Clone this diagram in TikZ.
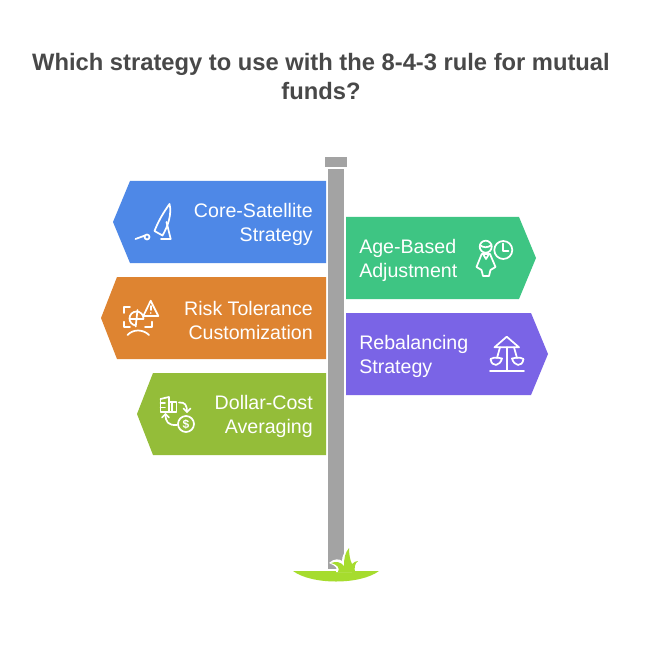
\documentclass[tikz,border=0pt]{standalone}
\usepackage{fontspec}
\setmainfont{Liberation Sans}
\definecolor{cblue}{HTML}{4E88E7}
\definecolor{corange}{HTML}{DE8431}
\definecolor{cgreen}{HTML}{94BD39}
\definecolor{cteal}{HTML}{3EC583}
\definecolor{cpurple}{HTML}{7A64E6}
\definecolor{cpole}{HTML}{A3A3A3}
\definecolor{cgrass}{HTML}{A6DC2E}
\definecolor{ctitle}{HTML}{484848}
\tikzset{
  titletext/.style={font=\fontsize{17.8}{21.75}\selectfont\bfseries,text=ctitle,align=center,inner sep=0pt},
  signtext/.style={font=\fontsize{14.7}{18}\selectfont,text=white,inner sep=0pt},
  icon/.style={draw=white,line width=1.3pt,line cap=round,line join=round,fill=none},
}
\begin{document}
\begin{tikzpicture}[x=0.75pt,y=-0.75pt]
\useasboundingbox (0,0) rectangle (648,648);
\fill[white] (0,0) rectangle (648,648);
\node[titletext] (title) at (321,76.5) {Which strategy to use with the 8-4-3 rule for mutual\\funds?};
% pole
\fill[cpole] (325,157) rectangle (347,167);
\fill[cpole] (328,169) rectangle (344,569);
% ground
\fill[cgrass] (293,571) .. controls (312,585) and (360,585) .. (379,571) -- cycle;
% grass halo
\fill[white] (336,572) .. controls (338,568) and (336,566) .. (329,563)
  .. controls (334,558) and (340,559) .. (342,561)
  .. controls (342,556) and (344,552) .. (350,546) -- (352,572) -- cycle;
% grass
\fill[cgrass] (338,572) .. controls (340,568) and (338,565) .. (331,563)
  .. controls (336,561) and (341,562) .. (344,566)
  .. controls (344,558) and (345,553) .. (349,548)
  .. controls (349,554) and (350,560) .. (352,564)
  .. controls (354,562) and (356,561) .. (358,561)
  .. controls (355,563) and (354,568) .. (355,572) -- cycle;
% signs
\fill[cblue] (326,181) -- (130,181) -- (113,222) -- (130,263) -- (326,263) -- cycle;
\fill[corange] (326,277) -- (117,277) -- (101,318) -- (117,359) -- (326,359) -- cycle;
\fill[cgreen] (326,373) -- (153,373) -- (137,414) -- (153,455) -- (326,455) -- cycle;
\fill[cteal] (346,217) -- (519,217) -- (536,258) -- (519,299) -- (346,299) -- cycle;
\fill[cpurple] (346,313) -- (531,313) -- (548,354) -- (531,395) -- (346,395) -- cycle;
% labels
\node[signtext,align=right,anchor=east] (l1) at (313,224) {Core-Satellite\\Strategy};
\node[signtext,align=right,anchor=east] (l2) at (313,320) {Risk Tolerance\\Customization};
\node[signtext,align=right,anchor=east] (l3) at (313,416) {Dollar-Cost\\Averaging};
\node[signtext,align=left,anchor=west] (l4) at (359,260) {Age-Based\\Adjustment};
\node[signtext,align=left,anchor=west] (l5) at (359,356) {Rebalancing\\Strategy};
% icon: satellite dish
\draw[icon] (169.5,204) .. controls (163,213) and (158,222) .. (154.5,231) -- (162.5,235.5) .. controls (168,226) and (172,214) .. (169.5,204) -- cycle;
\draw[icon] (166.5,222) -- (170.7,239) -- (161,239);
\draw[icon] (135.5,239) -- (145,235.5);
\draw[icon] (147,237) circle (2.5);
% icon: risk
\draw[icon] (124,313) -- (124,306.7) -- (130,306.7);
\draw[icon] (124,321.7) -- (124,327.3) -- (130,327.3);
\draw[icon] (145,327.3) -- (151.7,327.3) -- (151.7,321.7);
\draw[icon] (143.5,318.5) arc (0:-260:7);
\draw[icon] (137.5,310) -- (135.7,326.5) (129.7,319) -- (143.5,319);
\draw[icon] (127.5,335) .. controls (133,329) and (143,329) .. (149,335);
\draw[icon,fill=corange] (150.7,300.7) -- (158.3,316) -- (143.3,316) -- cycle;
\draw[icon] (150.7,306) -- (150.7,310);
\fill[white] (150.7,313) circle (0.8);
% icon: dollar cost
\draw[icon] (160.5,399) -- (160.5,412) -- (176.5,412) -- (176.5,402) -- (169,402);
\draw[icon] (160.5,399) -- (169,397) -- (169,412);
\draw[icon] (160.5,403) -- (165,403) (160.5,407.5) -- (165,407.5) (172,402) -- (172,412);
\draw[icon] (179,402.5) .. controls (185,402) and (187,405) .. (187,412);
\draw[icon] (183.5,408.5) -- (187,412) -- (190.5,408.5);
\draw[icon] (186,424) circle (8);
\node[font=\fontsize{9}{9}\selectfont\bfseries,text=white,inner sep=0pt] (dol) at (186,424) {\$};
\draw[icon] (177,425) .. controls (168,425.5) and (165.5,422) .. (165.5,414);
\draw[icon] (162,417.5) -- (165.5,414) -- (169,417.5);
% icon: age
\draw[icon] (485.7,246.7) circle (6);
\draw[icon] (480,245) .. controls (483,248) and (488,248) .. (491.5,245);
\draw[icon] (503.3,250) circle (9);
\draw[icon] (503.3,243.5) -- (503.3,251) -- (508.5,251);
\draw[icon] (481.7,254) -- (490,254) -- (495.5,267) -- (490.5,270) -- (489,276) -- (483,276) -- (481.5,270) -- (476.5,267) -- cycle;
\draw[icon] (483,254) -- (486,259) -- (489,254);
% icon: balance
\draw[icon] (506.7,336.7) -- (494.5,347.3) -- (519,347.3) -- cycle;
\draw[icon] (506.7,347.3) -- (506.7,370.7);
\draw[icon] (490,370.7) -- (524,370.7);
\draw[icon] (500,347.3) -- (497,358) (514,347.3) -- (517,358);
\draw[icon] (490.5,359) .. controls (495,356.5) and (499,358) .. (502,358.5) .. controls (500,366) and (492,368) .. (490.5,359) -- cycle;
\draw[icon] (523.5,359) .. controls (519,356.5) and (515,358) .. (512,358.5) .. controls (514,366) and (522,368) .. (523.5,359) -- cycle;
\end{tikzpicture}
\end{document}
